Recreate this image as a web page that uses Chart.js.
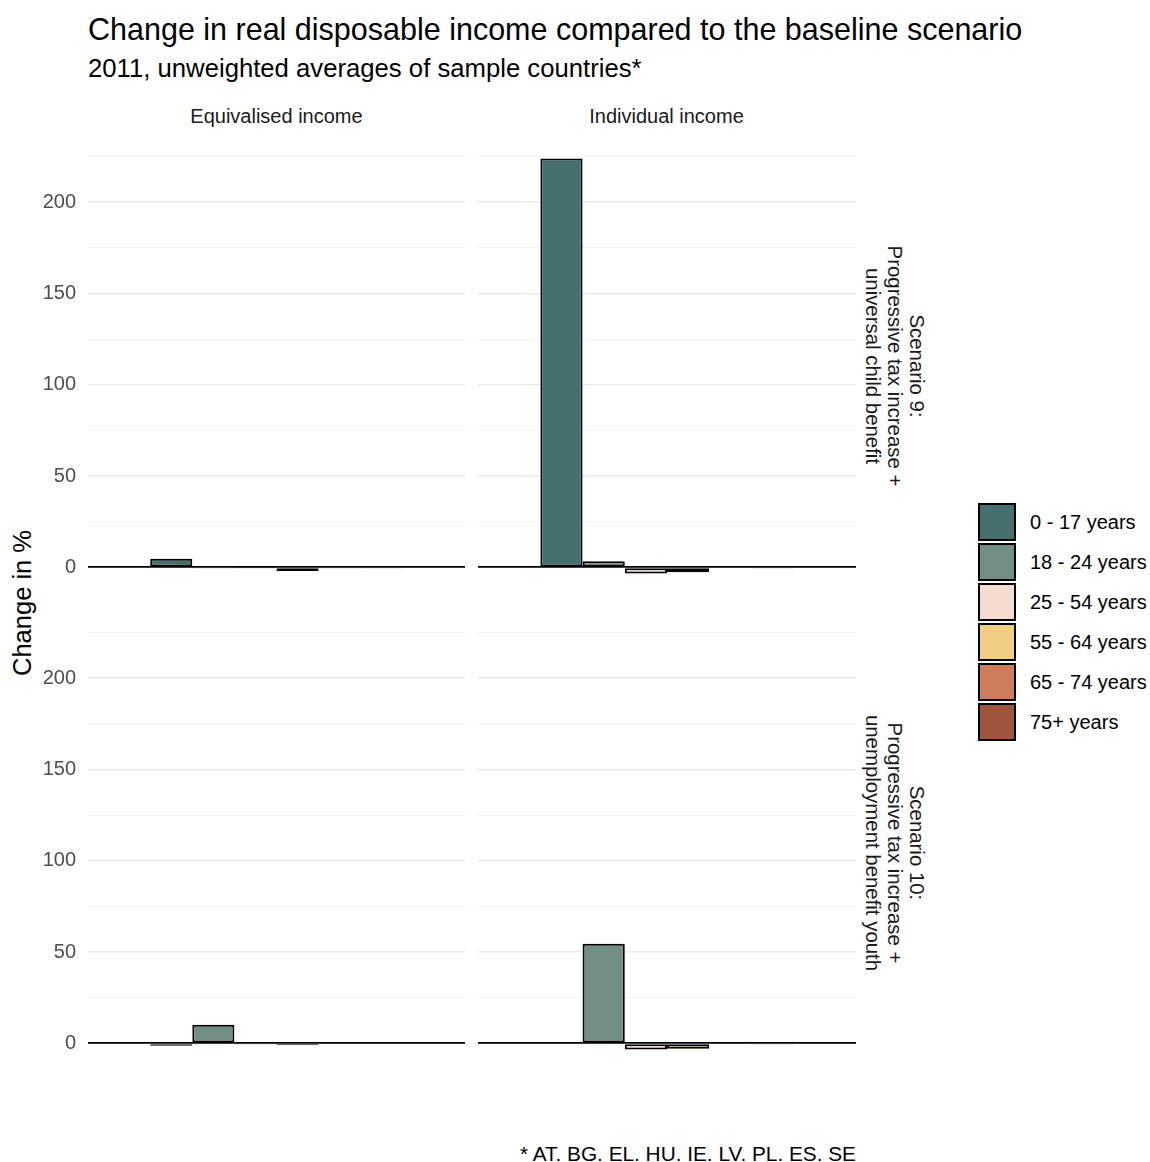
<!DOCTYPE html>
<html>
<head>
<meta charset="utf-8">
<script src="https://cdn.jsdelivr.net/npm/chart.js@4.4.1/dist/chart.umd.min.js"></script>
<style>
  body { margin: 0; background: #fff; font-family: "Liberation Sans", Arial, sans-serif; }
  #wrap { position: relative; width: 1150px; height: 1162px; }
  .panel { position: absolute; }
  .txt { position: absolute; white-space: nowrap; }
  .strip-top { font-size: 20px; color: #1a1a1a; text-align: center; width: 377px; }
  .strip-right { font-size: 20.4px; color: #1a1a1a; text-align: center; line-height: 22px; width: 340px;
                 transform: translate(-50%, -50%) rotate(90deg); }
  .legend-row { position: absolute; left: 978px; height: 40px; }
  .legend-key { position: absolute; left: 0; top: 0; width: 34px; height: 34px; border: 2px solid #000; }
  .legend-label { position: absolute; left: 52px; top: 8px; font-size: 20px; color: #000; white-space: nowrap; }
</style>
</head>
<body>
<div id="wrap">
  <div class="txt" style="left:88px;top:12px;font-size:30.5px;color:#000;">Change in real disposable income compared to the baseline scenario</div>
  <div class="txt" style="left:88px;top:54px;font-size:25.7px;color:#000;">2011, unweighted averages of sample countries*</div>

  <div class="txt strip-top" style="left:88px;top:105px;">Equivalised income</div>
  <div class="txt strip-top" style="left:478px;top:105px;">Individual income</div>

  <div class="txt strip-right" style="left:895px;top:366px;">Scenario 9:<br>Progressive tax increase +<br>universal child benefit</div>
  <div class="txt strip-right" style="left:895px;top:843px;">Scenario 10:<br>Progressive tax increase +<br>unemployment benefit youth</div>

  <div class="txt" style="left:22px;top:603px;font-size:25.5px;color:#000;transform:translate(-50%,-50%) rotate(-90deg);">Change in %</div>

  <div class="panel" style="left:30px;top:131px;width:435px;height:461px;"><canvas id="eq9"></canvas></div>
  <div class="panel" style="left:478px;top:131px;width:378px;height:461px;"><canvas id="ind9"></canvas></div>
  <div class="panel" style="left:30px;top:607px;width:435px;height:461px;"><canvas id="eq10"></canvas></div>
  <div class="panel" style="left:478px;top:607px;width:378px;height:461px;"><canvas id="ind10"></canvas></div>

  <div id="legend"></div>

  <div class="txt" style="right:294px;top:1142px;font-size:20.8px;color:#000;">* AT. BG. EL. HU. IE. LV. PL. ES. SE</div>
</div>

<script>
// age groups and their fill colours
var ageGroups = ['0 - 17 years', '18 - 24 years', '25 - 54 years', '55 - 64 years', '65 - 74 years', '75+ years'];
var ageColors = ['#45706e', '#728f83', '#f3dbd0', '#f2cd86', '#cd7c5c', '#a0553f'];

// change in % per age group, one array per facet
var scen9Equivalised = [4.7, -0.2, -0.1, -2.0, -0.3, -0.3];
var scen9Individual = [224.0, 3.4, -3.4, -2.7, -0.5, -0.3];
var scen10Equivalised = [-1.3, 10.2, -0.3, -1.0, -0.5, 0.0];
var scen10Individual = [0.0, 54.5, -3.3, -3.0, -0.5, -0.3];

// y axis
var yMin = -13.5;
var yMax = 239;
var yStep = 25;
var yLabelStep = 50;

function makePanel(id, values, showTicks) {
    var datasets = ageGroups.map(function (age, i) {
        return {
            label: age,
            data: [values[i]],
            backgroundColor: ageColors[i],
            borderColor: '#000',
            borderWidth: 2,
            borderSkipped: false
        };
    });

    return new Chart(document.getElementById(id), {
        type: 'bar',
        data: { labels: ['all'], datasets: datasets },
        options: {
            responsive: true,
            maintainAspectRatio: false,
            animation: false,
            layout: { padding: 0 },
            datasets: { bar: { categoryPercentage: 0.67, barPercentage: 1.0 } },
            plugins: { legend: { display: false }, tooltip: { enabled: false } },
            scales: {
                x: { display: false },
                y: {
                    min: yMin,
                    max: yMax,
                    border: { display: false },
                    grid: {
                        drawTicks: false,
                        color: function (c) {
                            var v = c.tick.value;
                            if (v === 0) return '#000';
                            if (v % yLabelStep === 0) return '#ebebeb';
                            if (v % yStep === 0) return '#f2f2f2';
                            return 'rgba(0,0,0,0)';
                        },
                        lineWidth: function (c) {
                            var v = c.tick.value;
                            if (v === 0) return 1.8;
                            if (v % yLabelStep === 0) return 1.6;
                            return 0.9;
                        }
                    },
                    ticks: {
                        display: showTicks,
                        stepSize: yStep,
                        padding: 12,
                        color: '#4d4d4d',
                        font: { family: '"Liberation Sans", Arial, sans-serif', size: 20 },
                        callback: function (v) {
                            return v % yLabelStep === 0 ? String(v) : '';
                        }
                    },
                    afterFit: function (scale) {
                        // fixed axis width, and no label overhang shrinking the plot height
                        scale.width = showTicks ? 58 : 0;
                        scale.paddingTop = 0;
                        scale.paddingBottom = 0;
                    }
                }
            }
        }
    });
}

makePanel('eq9', scen9Equivalised, true);
makePanel('ind9', scen9Individual, false);
makePanel('eq10', scen10Equivalised, true);
makePanel('ind10', scen10Individual, false);

// legend
var legend = document.getElementById('legend');
ageGroups.forEach(function (age, i) {
    var row = document.createElement('div');
    row.className = 'legend-row';
    row.style.top = (503 + i * 40) + 'px';
    row.innerHTML = '<div class="legend-key" style="background:' + ageColors[i] + '"></div>' +
        '<div class="legend-label">' + age + '</div>';
    legend.appendChild(row);
});
</script>
</body>
</html>
